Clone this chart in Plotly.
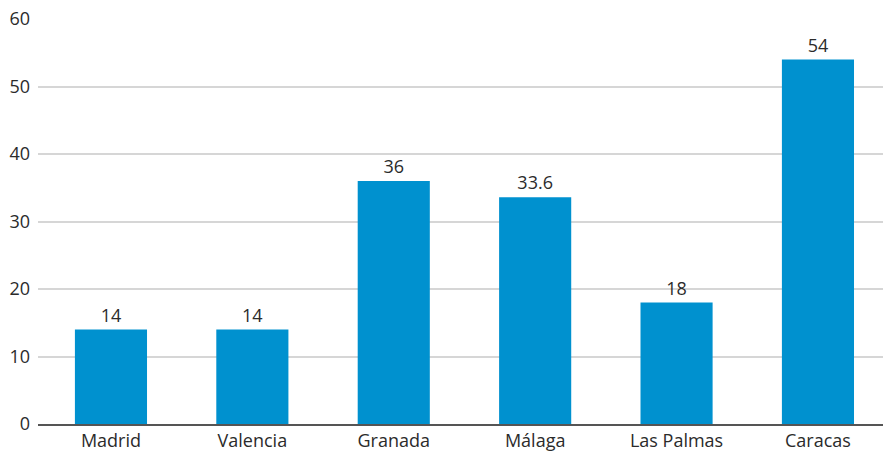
import plotly.graph_objects as go

# City values
cities = ["Madrid", "Valencia", "Granada", "Málaga", "Las Palmas", "Caracas"]
values = [14, 14, 36, 33.6, 18, 54]
value_labels = ["14", "14", "36", "33.6", "18", "54"]
y_ticks = [0, 10, 20, 30, 40, 50, 60]

FONT = "Open Sans, Noto Sans, sans-serif"
TEXT = "#2b2b2b"

fig = go.Figure(
    go.Bar(
        x=list(range(len(cities))),
        y=values,
        text=value_labels,
        textposition="outside",
        textfont=dict(family=FONT, size=18, color=TEXT),
        marker=dict(color="#0091cf", line=dict(width=0)),
        cliponaxis=False,
        hoverinfo="skip",
    )
)

fig.update_layout(
    width=883,
    height=454,
    margin=dict(l=38, r=0, t=19, b=30, autoexpand=False),
    paper_bgcolor="white",
    plot_bgcolor="white",
    bargap=0.49,
    showlegend=False,
    font=dict(family=FONT, size=18, color=TEXT),
)

fig.update_xaxes(
    range=[-0.516, 5.46],
    tickmode="array",
    tickvals=list(range(len(cities))),
    ticktext=cities,
    showgrid=False,
    showline=True,
    linecolor="#555555",
    linewidth=1.5,
    ticks="",
    ticklabelstandoff=0,
    tickfont=dict(family=FONT, size=18, color=TEXT),
    automargin=False,
    fixedrange=True,
)

fig.update_yaxes(
    range=[0, 60],
    tickmode="array",
    tickvals=y_ticks,
    showgrid=True,
    gridcolor="#d6d6d6",
    gridwidth=1.5,
    zeroline=False,
    showline=False,
    ticks="",
    ticklabelstandoff=7,
    tickfont=dict(family=FONT, size=18, color=TEXT),
    automargin=False,
    fixedrange=True,
)

fig.write_html("out.html", config={"displayModeBar": False})
